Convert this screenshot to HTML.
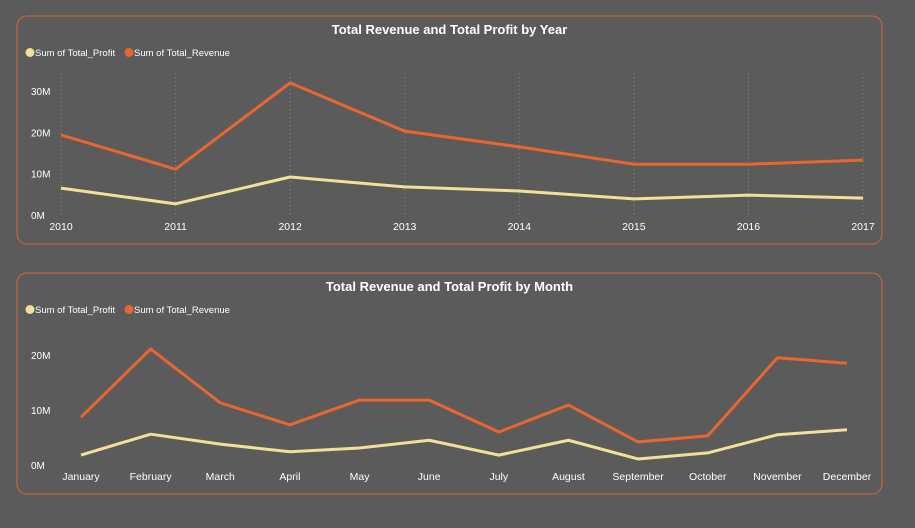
<!DOCTYPE html>
<html><head><meta charset="utf-8"><style>
body{margin:0;width:915px;height:523px;background:#5b5b5b;overflow:hidden;font-family:"Liberation Sans",sans-serif}
svg text{font-family:"Liberation Sans",sans-serif}
</style></head><body>
<svg id="svg" width="915" height="523"></svg>
<script>
const years=["2010","2011","2012","2013","2014","2015","2016","2017"];
const yearRevenue=[19.4,11.1,32,20.3,16.5,12.3,12.3,13.3];
const yearProfit=[6.5,2.7,9.2,6.8,5.8,3.9,4.8,4.1];
const yearTicks=[0,10,20,30];
const months=["January","February","March","April","May","June","July","August","September","October","November","December"];
const monthRevenue=[8.7,21.1,11.3,7.3,11.8,11.8,6,10.9,4.2,5.3,19.5,18.5];
const monthProfit=[1.8,5.6,3.8,2.4,3.1,4.5,1.8,4.5,1.1,2.2,5.5,6.4];
const monthTicks=[0,10,20];
const NS="http://www.w3.org/2000/svg",svg=document.getElementById('svg');
function mk(t,a,p){const e=document.createElementNS(NS,t);for(const k in a)e.setAttribute(k,a[k]);(p||svg).appendChild(e);return e;}
function chart(o){
 const g=mk('g',{});
 
 
 const r=mk('rect',{x:o.bx,y:o.by,width:o.bw,height:o.bh,rx:10,fill:'none',stroke:'#d9693a','stroke-width':1},g);
 
 
 const t=mk('text',{x:o.bx+o.bw/2,y:o.by+18,'text-anchor':'middle',fill:'#fff','font-size':13,'font-weight':'bold'},g);t.textContent=o.title;
 
 
 const ly=o.by+40;
 const c1=mk('circle',{cx:30,cy:ly-3.5,r:4.5,fill:'#f2e09a'},g);
 
 
 const l1=mk('text',{x:35,y:ly,fill:'#fff','font-size':9.5},g);l1.textContent='Sum of Total_Profit';
 
 
 const c2=mk('circle',{cx:129,cy:ly-3.5,r:4.5,fill:'#e8662f'},g);
 
 
 const l2=mk('text',{x:134,y:ly,fill:'#fff','font-size':9.5},g);l2.textContent='Sum of Total_Revenue';
 
 
 const xs=i=>o.x0+i*(o.x1-o.x0)/(o.cats.length-1);
 const ys=v=>o.y0-v*o.pxPerM;
 o.ticks.forEach(v=>{const tt=mk('text',{x:o.bx+14,y:ys(v)+4,fill:'#fff','font-size':10},g);tt.textContent=v+'M';
  
  });
 o.cats.forEach((c,i)=>{
  if(o.grid){const gl=mk('line',{x1:xs(i),x2:xs(i),y1:o.gridTop,y2:o.y0,stroke:'#8a8a8a','stroke-dasharray':'1 3','stroke-width':1},g);
   
   }
  const xt=mk('text',{x:xs(i),y:o.xLabY,'text-anchor':'middle',fill:'#fff','font-size':10.5},g);xt.textContent=c;
  
  
 });
 [[o.rev,'#e8662f','revenue-line'],[o.prof,'#f2e09a','profit-line']].forEach(([d,col,n])=>{
  const p=mk('polyline',{points:d.map((v,i)=>xs(i)+','+ys(v)).join(' '),fill:'none',stroke:col,'stroke-width':3,'stroke-linejoin':'round'},g);
  
  
 });
}
chart({name:'yearly-chart',title:'Total Revenue and Total Profit by Year',bx:17,by:16,bw:865,bh:228,cats:years,rev:yearRevenue,prof:yearProfit,ticks:yearTicks,x0:61,x1:863,y0:215,pxPerM:4.13,grid:true,gridTop:73,xLabY:230});
chart({name:'monthly-chart',title:'Total Revenue and Total Profit by Month',bx:17,by:273,bw:865,bh:221,cats:months,rev:monthRevenue,prof:monthProfit,ticks:monthTicks,x0:81,x1:847,y0:465,pxPerM:5.5,grid:false,xLabY:480});
</script>
</body></html>
